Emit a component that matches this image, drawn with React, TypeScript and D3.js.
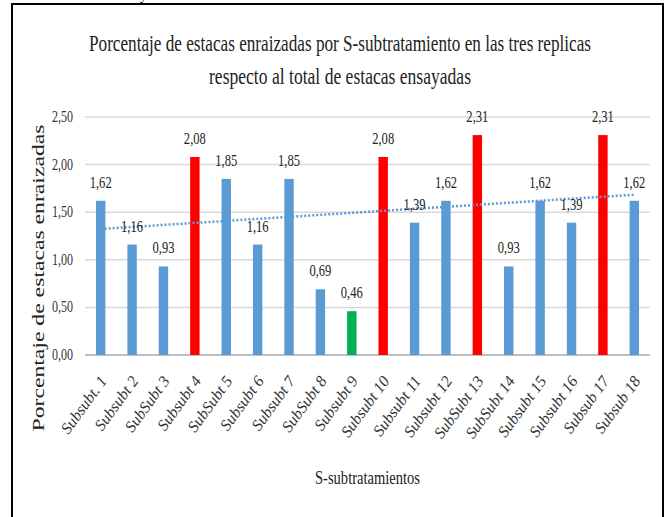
import { useEffect } from 'react';
import * as d3 from 'd3';

const categories = [
  'Subsubt. 1', 'Subsubt 2', 'SubSubt 3', 'Subsubt 4', 'SubSubt 5', 'Subsubt 6',
  'Subsubt 7', 'SubSubt 8', 'Subsubt 9', 'Subsubt 10', 'Subsubt 11', 'Subsubt 12',
  'SubSubt 13', 'SubSubt 14', 'Subsubt 15', 'Subsubt 16', 'Subsub 17', 'Subsub 18',
];
const values = [
  1.62, 1.16, 0.93, 2.08, 1.85, 1.16, 1.85, 0.69, 0.46,
  2.08, 1.39, 1.62, 2.31, 0.93, 1.62, 1.39, 2.31, 1.62,
];
const yTicks = [0, 0.5, 1, 1.5, 2, 2.5];
const titleLines = [
  'Porcentaje de estacas enraizadas por S-subtratamiento en las tres replicas',
  'respecto al total de estacas ensayadas',
];
const yTitle = 'Porcentaje de estacas enraizadas';
const xTitle = 'S-subtratamientos';

const W = 669;
const H = 517;
const margin = { top: 117, right: 19, bottom: 162, left: 85 };
const serif = "'Liberation Serif', 'DejaVu Serif', serif";
const fmt = (v: number) => v.toFixed(2).replace('.', ',');

export default function App() {
  useEffect(() => {
    document.body.style.margin = '0';
  }, []);

  const innerW = W - margin.left - margin.right;
  const innerH = H - margin.top - margin.bottom;

  const x = d3.scaleBand<string>().domain(categories).range([0, innerW]).paddingInner(0.7).paddingOuter(0.35);
  const y = d3.scaleLinear().domain([0, 2.5]).range([innerH, 0]);

  // linear trendline (least squares), like Excel's
  const idx = values.map((_, i) => i + 1);
  const mx = d3.mean(idx)!;
  const my = d3.mean(values)!;
  const slope = d3.sum(idx, (xi, i) => (xi - mx) * (values[i] - my)) / d3.sum(idx, xi => (xi - mx) ** 2);
  const icpt = my - slope * mx;
  const cx = (i: number) => x(categories[i])! + x.bandwidth() / 2;
  const trend = d3.line<number>()
    .x(i => cx(i))
    .y(i => y(icpt + slope * (i + 1)))([0, categories.length - 1]);

  const minV = d3.min(values)!;
  const barColor = (v: number) => (v >= 2 ? '#FF0000' : v === minV ? '#00B050' : '#5B9BD5');

  return (
    <svg width={W} height={H} style={{ display: 'block', background: '#fff', fontFamily: serif }}>
      <rect x={12} y={4} width={651} height={H + 10} fill="#fff" stroke="#000" strokeWidth={2} />
      <text x={140} y={0} fontSize={14} fill="#000">y</text>

      {titleLines.map((t, i) => (
        <text key={i} x={340} y={51 + i * 33} textAnchor="middle" fontSize={23} fill="#222"
          textLength={i === 0 ? 502 : 262} lengthAdjust="spacingAndGlyphs">{t}</text>
      ))}

      <g transform={`translate(${margin.left},${margin.top})`}>
        {yTicks.map(t => (
          <g key={t}>
            <line x1={0} x2={innerW} y1={y(t)} y2={y(t)}
              stroke={t === 0 ? '#BFBFBF' : '#D9D9D9'} strokeWidth={t === 0 ? 2 : 1.5} />
            <text x={-12} y={y(t) + 5} textAnchor="end" fontSize={16} fill="#333"
              textLength={21} lengthAdjust="spacingAndGlyphs">{fmt(t)}</text>
          </g>
        ))}

        {values.map((v, i) => (
          <rect key={i} x={x(categories[i])} y={y(v)} width={x.bandwidth()} height={y(0) - y(v)}
            fill={barColor(v)} />
        ))}

        <path d={trend!} fill="none" stroke="#5B9BD5" strokeWidth={2.5} strokeDasharray="2 2" />

        {values.map((v, i) => (
          <text key={i} x={cx(i)} y={y(v) - 13} textAnchor="middle" fontSize={17} fill="#222"
            textLength={22} lengthAdjust="spacingAndGlyphs">{fmt(v)}</text>
        ))}

        {categories.map((c, i) => (
          <text key={c} transform={`translate(${cx(i) + 7},${innerH + 26}) rotate(-54)`}
            textAnchor="end" fontSize={16} fontStyle="italic" fill="#333">{c}</text>
        ))}
      </g>

      <text transform={`translate(44,${278}) rotate(-90)`} textAnchor="middle" fontSize={17} fill="#222"
        textLength={307} lengthAdjust="spacingAndGlyphs">{yTitle}</text>
      <text x={margin.left + innerW / 2} y={484} textAnchor="middle" fontSize={18} fill="#222"
        textLength={105} lengthAdjust="spacingAndGlyphs">{xTitle}</text>
    </svg>
  );
}
